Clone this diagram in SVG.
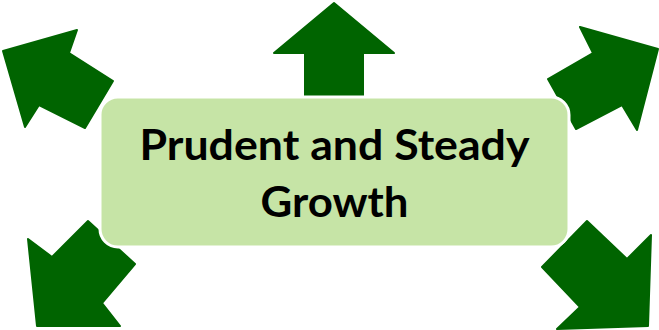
<svg xmlns="http://www.w3.org/2000/svg" width="659" height="330" viewBox="0 0 659 330">
  <style>
    .arrow { fill: #006400; stroke: #006400; stroke-width: 2; stroke-linejoin: round; }
    .box { fill: #C6E4A6; stroke: #FFFFFF; stroke-width: 3; }
    .label { font-family: Lato, "Open Sans", "Liberation Sans", sans-serif; font-weight: bold; font-size: 42px; fill: #000000; text-anchor: middle; }
  </style>
  <rect width="659" height="330" fill="#FFFFFF"/>
  <g id="connectors">
    <!-- up -->
    <polygon id="arrow-up" class="arrow" points="334,3 394,53 363,53 363,100 305,100 305,53 274,53"/>
    <!-- up-left -->
    <polygon id="arrow-up-left" class="arrow" points="3,51 77,30 69,53 113,81 85,128 39,105 25,127"/>
    <!-- up-right -->
    <polygon id="arrow-up-right" class="arrow" points="658,49 637,130 622,105 576,129 548,79 593,53 580,27"/>
    <!-- down-left -->
    <polygon id="arrow-down-left" class="arrow" points="37,326 28,239 52,257 88,221 135,264 102,303 120,326"/>
    <!-- down-right -->
    <polygon id="arrow-down-right" class="arrow" points="648,326 651,235 627,259 587,221 542,267 580,307 557,329"/>
  </g>
  <g id="center-node">
    <rect class="box" x="100" y="97" width="469" height="150" rx="18" ry="18"/>
    <text class="label" x="334.5" y="160" textLength="390" lengthAdjust="spacingAndGlyphs">Prudent and Steady</text>
    <text class="label" x="334.5" y="217" textLength="148" lengthAdjust="spacingAndGlyphs">Growth</text>
  </g>
</svg>
